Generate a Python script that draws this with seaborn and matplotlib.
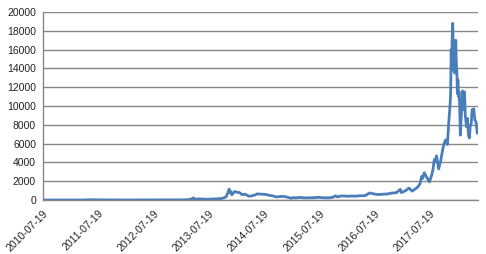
import matplotlib
matplotlib.use("Agg")
import matplotlib.pyplot as plt
import matplotlib.dates as mdates
import seaborn as sns
import pandas as pd

dates = [
    "2010-07-19", "2010-10-01", "2011-01-01", "2011-04-01", "2011-06-08", "2011-08-01",
    "2011-11-01", "2012-02-01", "2012-05-01", "2012-08-15", "2012-11-01", "2013-01-15",
    "2013-03-01", "2013-03-20", "2013-04-10", "2013-04-16", "2013-05-15", "2013-07-05",
    "2013-08-15", "2013-09-15", "2013-10-15", "2013-11-10", "2013-11-20", "2013-11-30",
    "2013-12-07", "2013-12-12", "2013-12-18", "2013-12-25", "2014-01-06", "2014-01-20",
    "2014-02-05", "2014-02-25", "2014-03-15", "2014-04-10", "2014-05-01", "2014-05-20",
    "2014-06-03", "2014-07-01", "2014-08-01", "2014-08-20", "2014-09-15", "2014-10-05",
    "2014-11-01", "2014-11-15", "2014-12-15", "2015-01-14", "2015-01-25", "2015-02-15",
    "2015-03-10", "2015-04-15", "2015-05-15", "2015-06-15", "2015-07-10", "2015-08-20",
    "2015-09-20", "2015-10-15", "2015-11-04", "2015-11-15", "2015-12-15", "2016-01-15",
    "2016-02-15", "2016-03-15", "2016-04-15", "2016-05-15", "2016-06-17", "2016-07-10",
    "2016-08-05", "2016-09-10", "2016-10-10", "2016-11-10", "2016-12-10", "2017-01-04",
    "2017-01-12", "2017-02-10", "2017-03-03", "2017-03-24", "2017-04-15", "2017-05-01",
    "2017-05-15", "2017-05-25", "2017-06-01", "2017-06-12", "2017-06-25", "2017-07-16",
    "2017-08-01", "2017-08-10", "2017-08-17", "2017-08-24", "2017-09-01", "2017-09-15",
    "2017-09-30", "2017-10-12", "2017-10-21", "2017-10-31", "2017-11-12", "2017-11-20",
    "2017-11-28", "2017-12-03", "2017-12-07", "2017-12-10", "2017-12-13", "2017-12-17",
    "2017-12-20", "2017-12-22", "2017-12-25", "2017-12-27", "2017-12-30", "2018-01-03",
    "2018-01-06", "2018-01-10", "2018-01-13", "2018-01-17", "2018-01-20", "2018-01-24",
    "2018-01-28", "2018-02-01", "2018-02-05", "2018-02-09", "2018-02-14", "2018-02-20",
    "2018-02-25", "2018-03-05", "2018-03-10", "2018-03-18", "2018-03-24", "2018-03-31",
    "2018-04-06", "2018-04-12", "2018-04-18", "2018-04-24", "2018-05-05", "2018-05-12",
    "2018-05-20", "2018-05-28", "2018-06-02",
]
prices = [
    0.08, 0.1, 0.3, 0.8, 30, 12,
    3, 5, 5, 12, 11, 15,
    34, 70, 230, 70, 120, 80,
    110, 130, 170, 330, 700, 1150,
    760, 900, 550, 700, 900, 830,
    800, 560, 630, 400, 450, 530,
    650, 620, 590, 500, 440, 330,
    360, 390, 330, 180, 250, 230,
    280, 225, 240, 245, 290, 230,
    235, 280, 450, 330, 440, 400,
    420, 415, 450, 460, 750, 660,
    580, 610, 640, 740, 780, 1130,
    780, 1010, 1270, 940, 1190, 1400,
    1750, 2500, 2300, 2900, 2500, 1930,
    2700, 3400, 4300, 4100, 4700, 3300,
    4300, 5400, 6000, 6400, 5900, 8100,
    9800, 11200, 16000, 14000, 17000, 18800,
    16500, 13800, 14400, 16500, 13500, 15100,
    17000, 14500, 13800, 11300, 12800, 11000,
    11500, 10000, 6900, 8200, 9800, 11600,
    9600, 11500, 9000, 7800, 8700, 6900,
    6600, 7900, 8100, 9600, 9700, 8500,
    8300, 7100, 7500,
]

df = pd.DataFrame({"date": pd.to_datetime(dates), "price": prices})

sns.set_style("white")
plt.rcParams["font.family"] = ["Liberation Sans", "DejaVu Sans"]

fig = plt.figure(figsize=(4.86, 2.54), dpi=100)
ax = fig.add_axes([43 / 486, 54 / 254, 435 / 486, 188 / 254])

sns.lineplot(data=df, x="date", y="price", ax=ax, color="#4a7ebb", linewidth=2.0)

tick_dates = pd.to_datetime([f"{y}-07-19" for y in range(2010, 2018)])
ax.set_xticks(tick_dates)
ax.xaxis.set_major_formatter(mdates.DateFormatter("%Y-%m-%d"))
ax.set_xlim(pd.Timestamp("2010-07-19"), pd.Timestamp("2018-06-02"))
ax.set_ylim(0, 20000)
ax.set_yticks(range(0, 20001, 2000))

ax.grid(axis="y", color="#878787", linewidth=1.0)
ax.set_axisbelow(True)
for s in ["top", "right"]:
    ax.spines[s].set_visible(False)
for s in ["left", "bottom"]:
    ax.spines[s].set_color("#878787")
    ax.spines[s].set_linewidth(1.0)

ax.tick_params(axis="x", direction="out", length=4, color="#878787", labelsize=7.5,
               labelcolor="#222222", pad=2)
ax.tick_params(axis="y", direction="out", length=3, color="#878787", labelsize=7.5,
               labelcolor="#222222", pad=2)
plt.setp(ax.get_xticklabels(), rotation=45, ha="right", rotation_mode="anchor")
ax.set_xlabel("")
ax.set_ylabel("")

fig.savefig("out.png", dpi=100)
